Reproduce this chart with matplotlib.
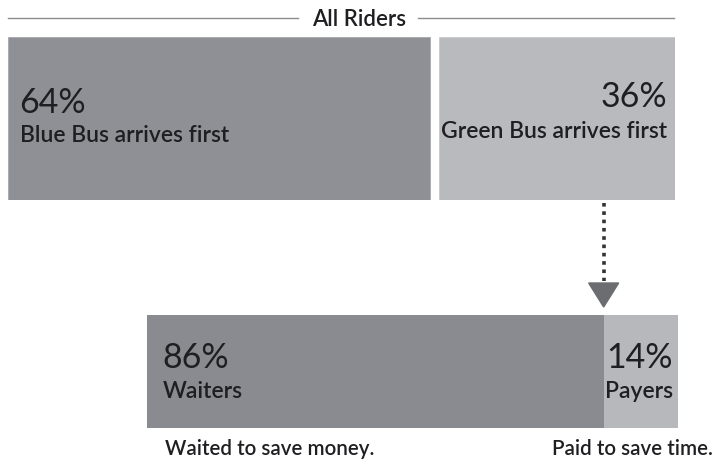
import matplotlib.pyplot as plt
from matplotlib.patches import Polygon

# data
top_labels = ["Blue Bus arrives first", "Green Bus arrives first"]
top_shares = [64, 36]
bottom_labels = ["Waiters", "Payers"]
bottom_shares = [86, 14]
bottom_notes = ["Waited to save money.", "Paid to save time."]
title = "All Riders"

W, H = 716, 462
FONT = "Lato"
TXT = "#1f1f22"
top_colors = ["#8f9095", "#b9babe"]
bottom_colors = ["#8a8b90", "#b7b8bc"]

fig = plt.figure(figsize=(W / 100, H / 100), dpi=100)
fig.patch.set_facecolor("white")


def px_axes(x0, y0, x1, y1):
    """axes placed by pixel box (top-left origin)"""
    ax = fig.add_axes([x0 / W, 1 - y1 / H, (x1 - x0) / W, (y1 - y0) / H])
    ax.set_xlim(0, 100)
    ax.set_ylim(0, 1)
    ax.axis("off")
    return ax


# top bar: two blocks with a small white gap
ax_top = px_axes(8, 37, 675, 200)
gap = 1.35
ax_top.barh(0.5, top_shares[0] - gap / 2, left=0, height=1,
            color=top_colors[0], edgecolor="#a6a7ab", linewidth=0.6)
ax_top.barh(0.5, top_shares[1] - gap / 2, left=top_shares[0] + gap / 2, height=1,
            color=top_colors[1], edgecolor="#c9cacd", linewidth=0.6)

# bottom bar: stacked, no gap
ax_bot = px_axes(147, 315, 678, 428)
ax_bot.barh(0.5, bottom_shares[0], left=0, height=1, color=bottom_colors[0])
ax_bot.barh(0.5, bottom_shares[1], left=bottom_shares[0], height=1,
            color=bottom_colors[1])

# overlay in pixel coords for text and arrow
ov = fig.add_axes([0, 0, 1, 1])
ov.set_xlim(0, W)
ov.set_ylim(H, 0)
ov.axis("off")
ov.patch.set_alpha(0)

pct = dict(fontsize=24.5, family=FONT, color=TXT, va="baseline")
lab = dict(fontsize=16.5, family=FONT, color=TXT, va="baseline", weight="semibold")
note = dict(fontsize=14.8, family=FONT, color=TXT, va="baseline", weight="semibold")

# title with rules on both sides
ov.text(359, 26, title, ha="center", va="baseline", fontsize=16,
        family=FONT, color=TXT, weight="semibold")
ov.plot([8, 298], [18, 18], color="#8c8c8c", lw=1.0)
ov.plot([418, 674], [18, 18], color="#8c8c8c", lw=1.0)

# top texts
ov.text(19, 113, f"{top_shares[0]}%", ha="left", **pct)
ov.text(20, 142, top_labels[0], ha="left", **lab)
ov.text(667, 107, f"{top_shares[1]}%", ha="right", **pct)
ov.text(667, 138, top_labels[1], ha="right", **lab)

# arrow from green block down to the split of the bottom bar
split_x = 147 + (678 - 147) * bottom_shares[0] / 100
ov.plot([split_x, split_x], [203, 281], color="#333333", lw=2.6,
        linestyle=(0, (1.0, 1.3)), solid_capstyle="butt")
ov.add_patch(Polygon([[split_x - 15, 283], [split_x + 15, 283], [split_x, 307]],
                     closed=True, color="#6c6d71"))

# bottom texts
ov.text(162, 368, f"{bottom_shares[0]}%", ha="left", **pct)
ov.text(163, 398, bottom_labels[0], ha="left", **lab)
ov.text(673, 368, f"{bottom_shares[1]}%", ha="right", **pct)
ov.text(673, 398, bottom_labels[1], ha="right", **lab)

ov.text(165, 455, bottom_notes[0], ha="left", **note)
ov.text(713, 455, bottom_notes[1], ha="right", **note)

fig.savefig("out.png", dpi=100, facecolor="white")
